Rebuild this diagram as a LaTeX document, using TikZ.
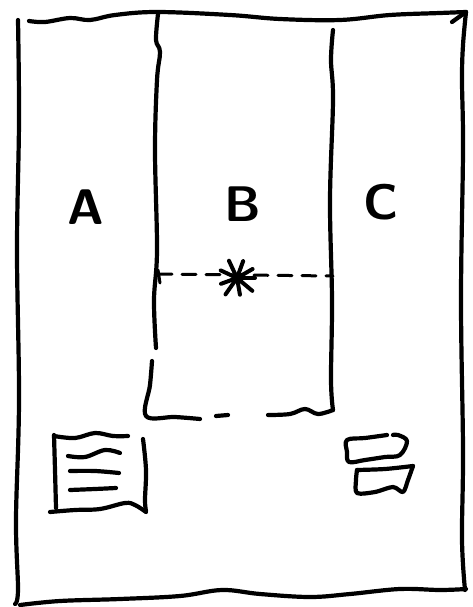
\documentclass[tikz,border=0pt]{standalone}
\usetikzlibrary{calc}
\begin{document}
\begin{tikzpicture}[x=1pt,y=-1pt,
  ink/.style={line width=4.2pt,line cap=round,line join=round,black},
  letter/.style={font=\sffamily\bfseries\fontsize{50}{52}\selectfont,inner sep=0pt}]
\useasboundingbox[fill=white] (0,0) rectangle (472,607);
% outer frame
\draw[ink] plot[smooth,tension=0.6] coordinates {(18,20) (19,120) (17,250) (19,400) (16,520) (18,590) (15,604)};
\draw[ink] plot[smooth,tension=0.6] coordinates {(29,21) (45,22) (70,18) (90,20) (115,15) (157,12) (230,15) (280,19) (340,20) (390,15) (440,13) (466,12)};
\draw[ink] (466,12) -- (452,22);
\draw[ink] plot[smooth,tension=0.6] coordinates {(466,12) (463,45) (462,80) (463,150) (461,300) (463,450) (462,540) (465,590)};
\draw[ink] plot[smooth,tension=0.6] coordinates {(20,605) (60,601) (120,599) (180,596) (222,590) (260,594) (310,597) (350,594) (400,589) (440,590) (466,589)};
% column B
\draw[ink] plot[smooth,tension=0.6] coordinates {(158,14) (156,40) (160,52) (157,80) (155,150) (157,250) (154,300) (156,348)};
\draw[ink] plot[smooth,tension=0.6] coordinates {(333,30) (331,60) (333,100) (330,200) (332,300) (331,380) (333,410)};
\draw[ink] plot[smooth,tension=0.6] coordinates {(152,361) (150,385) (146,416) (175,417) (200,419)};
\draw[ink] (216,416) -- (228,415);
\draw[ink] plot[smooth,tension=0.6] coordinates {(268,415) (290,414) (305,409) (318,414) (333,410)};
% dashed line through star
\draw[ink,line width=3pt,dash pattern=on 14pt off 10pt] (158,274) -- (333,276);
\draw[ink,line width=3pt] (158,270) -- (160,283);
% star
\coordinate (s) at (237,278);
\foreach \a/\r in {0/18,40/20,80/17,125/20,160/17,205/18,245/19,290/18,330/18}{
  \draw[ink,line width=4pt] (s) -- ++(\a:\r);
}
% letters
\node[letter] (A) at (86,207) {A};
\node[letter] (B) at (243,204) {B};
\node[letter] (C) at (381,202) {C};
% left box
\draw[ink] plot[smooth,tension=0.6] coordinates {(54,435) (55,470) (56,508)};
\draw[ink] plot[smooth,tension=0.6] coordinates {(54,436) (75,438) (95,433) (113,436) (128,436)};
\draw[ink] plot[smooth,tension=0.6] coordinates {(143,439) (146,470) (145,500) (146,511)};
\draw[ink] plot[smooth,tension=0.6] coordinates {(50,512) (75,510) (100,509) (125,503) (135,505) (146,512)};
\draw[ink] plot[smooth,tension=0.6] coordinates {(68,456) (85,457) (105,450) (120,453)};
\draw[ink] plot[smooth,tension=0.6] coordinates {(70,471) (95,471) (119,473)};
\draw[ink] plot[smooth,tension=0.6] coordinates {(70,490) (95,489) (116,488)};
% right box
\draw[ink] plot[smooth,tension=0.6] coordinates {(387,435) (365,438) (347,440) (347,452) (349,462) (365,460) (385,457) (400,455) (407,441) (398,435) (393,435)};
\draw[ink] plot[smooth,tension=0.5] coordinates {(357,470) (385,469) (413,466)};
\draw[ink] plot[smooth,tension=0.5] coordinates {(413,466) (408,480) (403,492) (393,487) (375,492) (357,493) (356,480) (357,470)};
\end{tikzpicture}
\end{document}
